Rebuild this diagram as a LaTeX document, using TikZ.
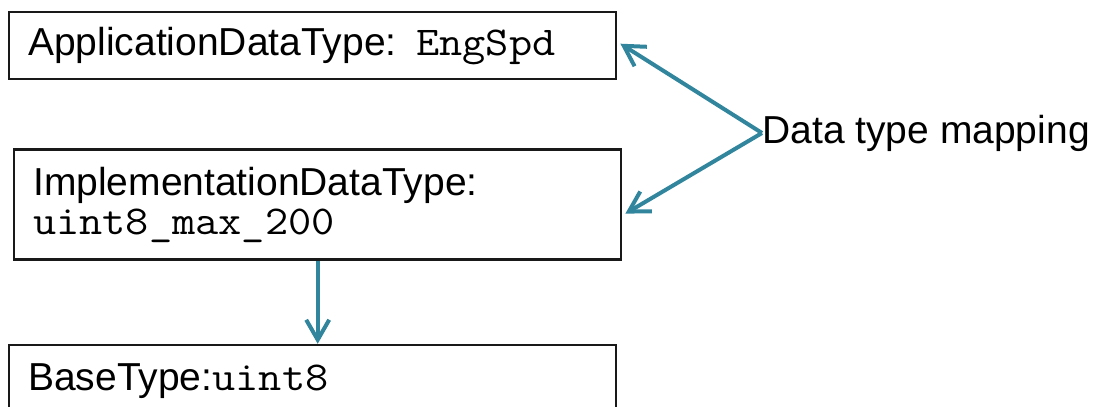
\documentclass[tikz,border=0pt]{standalone}
\usepackage{fontspec}
\setmainfont{Liberation Sans}
\setmonofont[Scale=1.05,FakeStretch=1.10]{Latin Modern Mono}
\usepackage{tikz}
\usetikzlibrary{positioning,arrows.meta}

\definecolor{mapteal}{HTML}{31859C}

\tikzset{
  typebox/.style={draw=black!90, line width=1.2pt, rectangle, anchor=north west,
    inner xsep=9.5pt, inner ysep=0pt, text width=284.5pt, align=left,
    font=\fontsize{19.5pt}{19.5pt}\selectfont},
  maparrow/.style={draw=mapteal, line width=2pt,
    -{Straight Barb[length=10pt,width=11.5pt]}},
  maplabel/.style={inner sep=0pt, anchor=west,
    font=\fontsize{19.5pt}{19.5pt}\selectfont},
}

\begin{document}
\begin{tikzpicture}[x=0.5pt, y=-0.5pt]
  \useasboundingbox (0,0) rectangle (1109,407);

  % type boxes
  \node[typebox, minimum height=33.5pt] at (8,11)   (app)  {ApplicationDataType: \texttt{EngSpd}}; %
  \node[typebox, minimum height=55pt, below=34pt of app.south west, anchor=north west, xshift=2.5pt]
                                                     (impl) {ImplementationDataType:\\\texttt{uint8\_max\_200}}; %
  \node[typebox, minimum height=36pt, below=41.5pt of impl.south west, anchor=north west, xshift=-2.5pt]
                                                     (base) {BaseType:\texttt{uint8}}; %

  % mapping label
  \node[maplabel] at (762,133) (mapping) {Data type mapping}; %

  % arrows
  \draw[maparrow] (mapping.west) -- ([shift={(3,-2)}]app.east) ; %
  \draw[maparrow] (mapping.west) -- ([shift={(3,9)}]impl.east) ; %
  \draw[maparrow] (impl.south) -- (impl.south |- base.north) ; %

\end{tikzpicture}
\end{document}
